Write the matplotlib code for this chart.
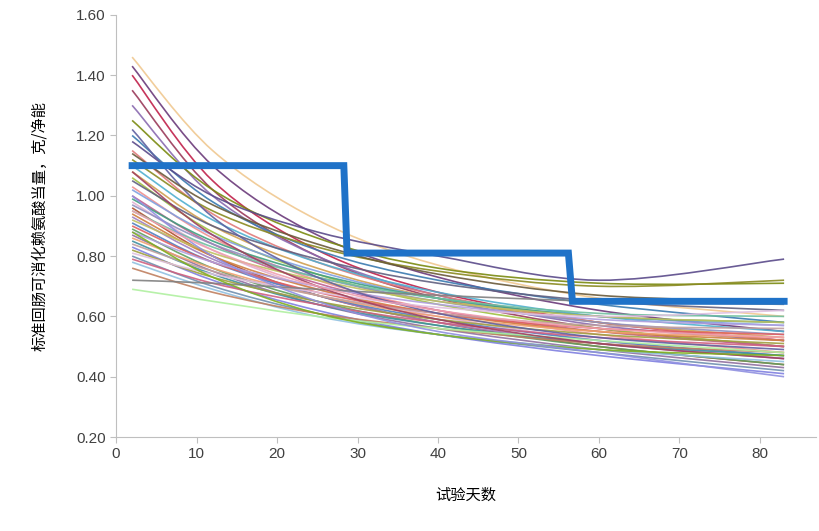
import matplotlib
matplotlib.use("Agg")
import matplotlib.pyplot as plt
from matplotlib.ticker import FormatStrFormatter
from matplotlib.path import Path
from matplotlib.patches import PathPatch

plt.rcParams['font.family'] = ['Noto Sans CJK SC', 'DejaVu Sans']

days = [2, 12, 25, 40, 60, 83]
curves = [
    [1.46, 1.15, 0.92, 0.77, 0.66, 0.60],
    [1.43, 1.10, 0.87, 0.73, 0.62, 0.55],
    [1.40, 1.05, 0.82, 0.68, 0.58, 0.52],
    [1.35, 1.02, 0.80, 0.66, 0.56, 0.50],
    [1.30, 1.00, 0.80, 0.67, 0.57, 0.52],
    [1.25, 1.02, 0.86, 0.76, 0.71, 0.71],
    [1.20, 0.98, 0.82, 0.72, 0.64, 0.58],
    [1.18, 1.00, 0.88, 0.80, 0.72, 0.79],
    [1.15, 0.94, 0.78, 0.67, 0.58, 0.52],
    [1.12, 0.95, 0.83, 0.75, 0.70, 0.72],
    [1.10, 0.92, 0.78, 0.68, 0.60, 0.55],
    [1.08, 0.90, 0.76, 0.66, 0.58, 0.53],
    [1.06, 0.88, 0.74, 0.64, 0.56, 0.50],
    [1.05, 0.90, 0.79, 0.71, 0.65, 0.62],
    [1.03, 0.86, 0.72, 0.62, 0.54, 0.48],
    [1.02, 0.87, 0.75, 0.66, 0.60, 0.57],
    [1.00, 0.84, 0.71, 0.62, 0.55, 0.50],
    [0.99, 0.85, 0.74, 0.66, 0.60, 0.58],
    [0.98, 0.82, 0.69, 0.60, 0.52, 0.46],
    [0.97, 0.84, 0.73, 0.65, 0.58, 0.54],
    [0.96, 0.80, 0.67, 0.58, 0.50, 0.44],
    [0.95, 0.83, 0.73, 0.66, 0.61, 0.60],
    [0.94, 0.80, 0.69, 0.61, 0.55, 0.52],
    [0.93, 0.79, 0.67, 0.58, 0.51, 0.46],
    [0.92, 0.81, 0.72, 0.65, 0.60, 0.58],
    [0.91, 0.78, 0.67, 0.59, 0.52, 0.47],
    [0.90, 0.78, 0.68, 0.61, 0.56, 0.54],
    [0.89, 0.76, 0.65, 0.57, 0.50, 0.44],
    [0.88, 0.78, 0.70, 0.64, 0.59, 0.57],
    [0.87, 0.75, 0.64, 0.56, 0.49, 0.43],
    [0.86, 0.76, 0.67, 0.60, 0.55, 0.53],
    [0.85, 0.74, 0.64, 0.57, 0.51, 0.47],
    [0.84, 0.75, 0.67, 0.61, 0.57, 0.56],
    [0.83, 0.72, 0.62, 0.54, 0.47, 0.41],
    [0.82, 0.73, 0.65, 0.59, 0.54, 0.51],
    [0.81, 0.74, 0.68, 0.63, 0.60, 0.62],
    [0.80, 0.70, 0.61, 0.54, 0.48, 0.42],
    [0.79, 0.71, 0.64, 0.58, 0.53, 0.50],
    [0.78, 0.69, 0.60, 0.54, 0.49, 0.45],
    [0.76, 0.68, 0.61, 0.56, 0.51, 0.48],
    [0.72, 0.71, 0.69, 0.67, 0.65, 0.64],
    [0.69, 0.65, 0.60, 0.56, 0.52, 0.48],
    [1.08, 0.87, 0.70, 0.59, 0.51, 0.46],
    [1.22, 0.93, 0.73, 0.61, 0.53, 0.49],
    [0.88, 0.73, 0.61, 0.54, 0.49, 0.47],
    [1.00, 0.80, 0.65, 0.55, 0.48, 0.40],
    [1.14, 0.97, 0.84, 0.74, 0.67, 0.65],
    [0.95, 0.82, 0.70, 0.62, 0.56, 0.53],
]
colors = ['#f0c890', '#6b3a7a', '#c0204a', '#9a3a5a', '#8a6ab0', '#7a8a10',
          '#3a7ab0', '#5a4a8a', '#e07a7a', '#8a8a20', '#50b0d0', '#d0a050',
          '#a0c040', '#606080', '#f09090', '#80a0e0', '#c06090', '#40a080',
          '#e0b0d0', '#9090c0', '#b05030', '#70c0a0', '#d08040', '#a080c0',
          '#c0c060', '#5080c0', '#e06060', '#60a060', '#b0a0e0', '#9070a0',
          '#f0a070', '#4090a0', '#c0a0a0', '#8080e0', '#a0a040', '#e0c0e0',
          '#7090b0', '#d06080', '#90c0e0', '#c08060', '#808080', '#b0f0a0',
          '#a04060', '#6060a0', '#80b020', '#9090e0', '#6a5a3a', '#f0a0b0']

step_x = [2, 28.3, 28.7, 56.2, 56.7, 83]
step_y = [1.10, 1.10, 0.81, 0.81, 0.65, 0.65]


def smooth_path(xs, ys):
    # Catmull-Rom rendered as cubic Bezier segments through the read points
    pts = list(zip(xs, ys))
    verts = [pts[0]]
    codes = [Path.MOVETO]
    n = len(pts)
    for i in range(n - 1):
        p0 = pts[i - 1] if i > 0 else pts[i]
        p1, p2 = pts[i], pts[i + 1]
        p3 = pts[i + 2] if i + 2 < n else pts[i + 1]
        c1 = (p1[0] + (p2[0] - p0[0]) / 6, p1[1] + (p2[1] - p0[1]) / 6)
        c2 = (p2[0] - (p3[0] - p1[0]) / 6, p2[1] - (p3[1] - p1[1]) / 6)
        verts += [c1, c2, p2]
        codes += [Path.CURVE4] * 3
    return Path(verts, codes)


fig = plt.figure(figsize=(8.2, 5.31), dpi=100)
ax = fig.add_axes([0.1415, 0.177, 0.854, 0.795])
for i, c in enumerate(curves):
    ax.add_patch(PathPatch(smooth_path(days, c), facecolor='none',
                           edgecolor=colors[i % len(colors)], lw=1.2, alpha=0.9))
ax.plot(step_x, step_y, color='#1f72c8', lw=5, solid_joinstyle='miter')

ax.set_xlim(0, 87)
ax.set_ylim(0.2, 1.6)
ax.set_xticks(range(0, 90, 10))
ax.set_yticks([0.2, 0.4, 0.6, 0.8, 1.0, 1.2, 1.4, 1.6])
ax.yaxis.set_major_formatter(FormatStrFormatter('%.2f'))
for s in ['top', 'right']:
    ax.spines[s].set_visible(False)
for s in ['left', 'bottom']:
    ax.spines[s].set_color('#bfbfbf')
ax.tick_params(colors='#404040', labelsize=11, length=4)
ax.tick_params(axis='both', color='#bfbfbf')
for lab in ax.get_xticklabels() + ax.get_yticklabels():
    lab.set_family(['Liberation Sans', 'DejaVu Sans'])
ax.set_xlabel('试验天数', fontsize=11, labelpad=18)
ax.set_ylabel('标准回肠可消化赖氨酸当量，克/净能', fontsize=11, labelpad=20)
fig.savefig('out.png', dpi=100)
